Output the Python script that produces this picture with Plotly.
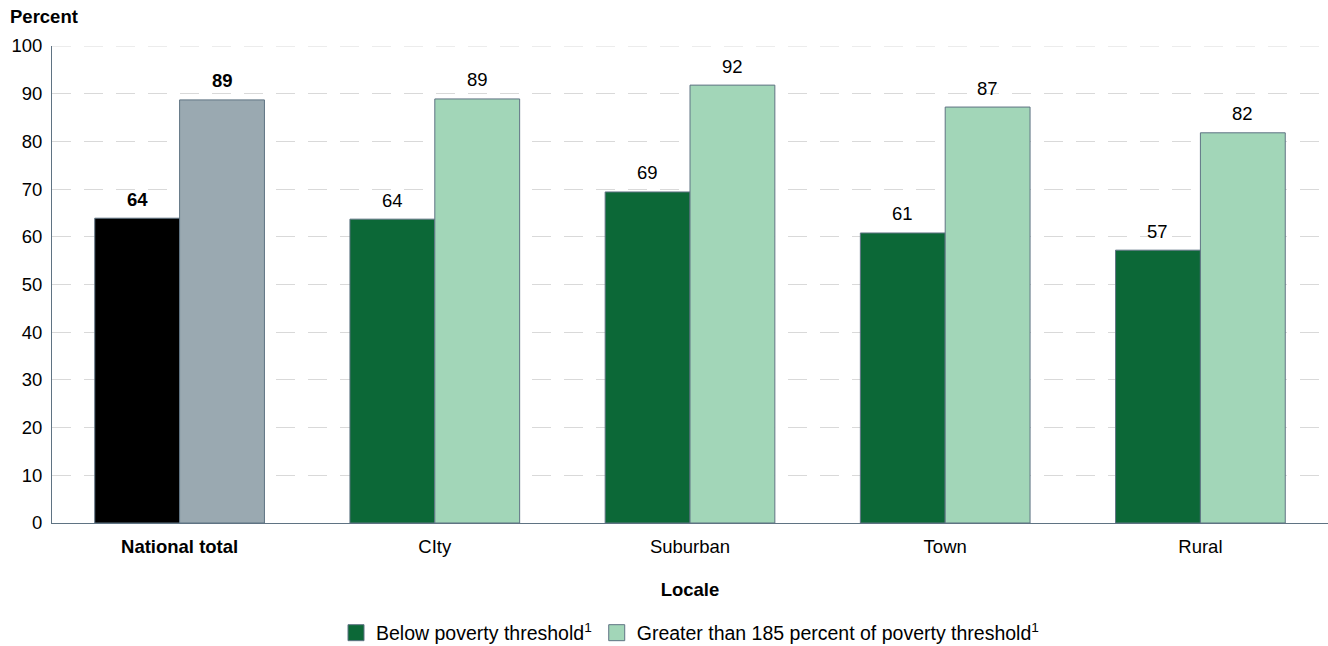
import plotly.graph_objects as go

categories = ["<b>National total</b>", "CIty", "Suburban", "Town", "Rural"]
below = [63.9, 63.7, 69.4, 60.8, 57.2]
above = [88.7, 88.9, 91.8, 87.2, 81.8]
below_labels = ["<b>64</b>", "64", "69", "61", "57"]
above_labels = ["<b>89</b>", "89", "92", "87", "82"]
legend_names = ["Below poverty threshold<sup>1</sup>",
                "Greater than 185 percent of poverty threshold<sup>1</sup>"]

c_nat_below = "#000000"
c_nat_above = "#9aa9b1"
c_below = "#0c6837"
c_above = "#a2d6b8"
edge = "#5f7383"
grid = "#d9d9d9"
dash = "19px,13px"
font_fam = "Liberation Sans, Arial, sans-serif"
FS = 18.5

W, H = 1328, 646
ML, MR, MT, MB = 52, 0, 46, 123
bargap = 0.335

below_colors = [c_nat_below] + [c_below] * 4
above_colors = [c_nat_above] + [c_above] * 4

fig = go.Figure()
fig.add_trace(go.Bar(x=categories, y=below, offsetgroup="a", showlegend=False,
                     marker=dict(color=below_colors, line=dict(color=edge, width=1))))
fig.add_trace(go.Bar(x=categories, y=above, offsetgroup="b", showlegend=False,
                     marker=dict(color=above_colors, line=dict(color=edge, width=1))))
# legend entries (square swatches)
for name, col in zip(legend_names, [c_below, c_above]):
    fig.add_trace(go.Scatter(x=[categories[1]], y=[None], mode="markers", name=name,
                             marker=dict(symbol="square", size=20, color=col,
                                         line=dict(color=edge, width=1))))

# value labels
cat_w = (W - ML - MR) / len(categories)
half = cat_w * (1 - bargap) / 4
annotations = []
for cat, v, t in zip(categories, below, below_labels):
    annotations.append(dict(x=cat, y=v, xref="x", yref="y", text=t, showarrow=False,
                            xshift=-half, yshift=19, yanchor="middle",
                            font=dict(size=FS, color="#000")))
for cat, v, t in zip(categories, above, above_labels):
    annotations.append(dict(x=cat, y=v, xref="x", yref="y", text=t, showarrow=False,
                            xshift=half, yshift=19, yanchor="middle",
                            font=dict(size=FS, color="#000")))
annotations.append(dict(text="<b>Percent</b>", x=(8 - ML) / (W - ML - MR), xref="paper", xanchor="left",
                        y=(H - MB - 17) / (H - MT - MB), yref="paper", yanchor="middle",
                        showarrow=False, font=dict(size=FS, color="#000")))

fig.update_layout(
    width=W, height=H,
    margin=dict(l=ML, r=MR, t=MT, b=MB, autoexpand=False),
    plot_bgcolor="white", paper_bgcolor="white",
    barmode="group", bargap=bargap, bargroupgap=0,
    font=dict(family=font_fam, size=FS, color="#000"),
    legend=dict(orientation="h", x=0.5, xanchor="center", yref="container", y=(H - 633) / H, yanchor="middle",
                font=dict(size=19.5), traceorder="normal", itemwidth=30, bgcolor="rgba(0,0,0,0)"),
    annotations=annotations,
    shapes=[dict(type="line", xref="x domain", x0=0, x1=1, yref="y", y0=100, y1=100,
                 line=dict(color=grid, width=1, dash=dash), layer="below")],
)
fig.update_xaxes(showline=True, linecolor=edge, linewidth=1, ticks="outside", ticklen=7,
                 tickcolor="rgba(0,0,0,0)", tickfont=dict(size=FS),
                 title=dict(text="<b>Locale</b>", font=dict(size=FS), standoff=26), automargin=False)
fig.update_yaxes(range=[0, 100], tickvals=list(range(0, 101, 10)), showline=True, linecolor=edge, linewidth=1,
                 gridcolor=grid, griddash=dash, gridwidth=1, zeroline=False,
                 tickfont=dict(size=FS), ticks="outside", ticklen=5, tickcolor="rgba(0,0,0,0)", automargin=False)

fig.write_html("out.html")
